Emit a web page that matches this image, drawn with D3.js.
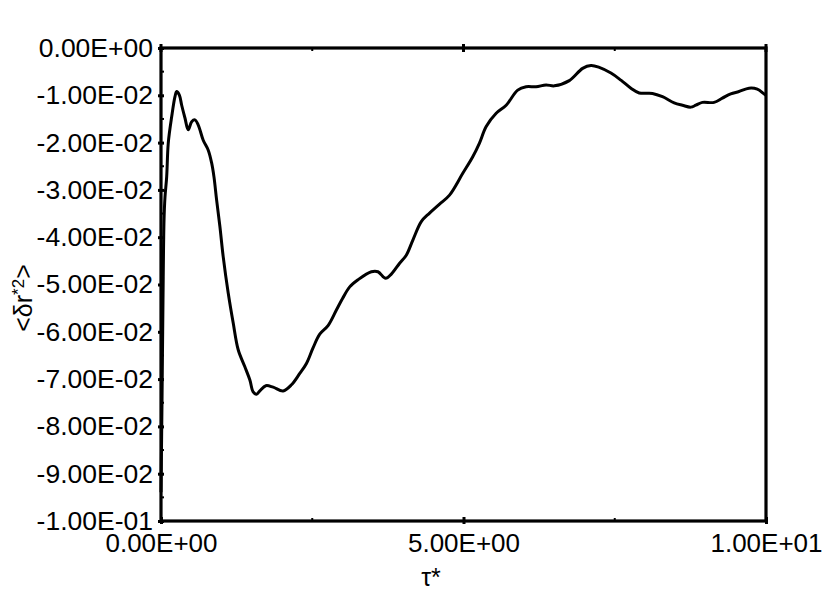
<!DOCTYPE html>
<html>
<head>
<meta charset="utf-8">
<script src="https://cdn.jsdelivr.net/npm/d3@7"></script>
<style>
  body { margin: 0; background: #fff; }
  text { font-family: "Liberation Sans", Arial, sans-serif; fill: #000; }
</style>
</head>
<body>
<div id="main"></div>
<script>
const ctx = { w: 840, h: 595 };
const margin = { top: 48, right: 74, bottom: 74, left: 161 };

// tau* values
const tau = [0.0, 0.017, 0.033, 0.05, 0.066, 0.094, 0.12, 0.177, 0.231, 0.259,
  0.302, 0.342, 0.396, 0.45, 0.507, 0.561, 0.616, 0.698, 0.781, 0.837,
  0.875, 0.919, 0.974, 1.028, 1.111, 1.193, 1.276, 1.386, 1.469, 1.523,
  1.579, 1.634, 1.733, 1.853, 2.018, 2.157, 2.294, 2.404, 2.513, 2.624,
  2.761, 2.899, 3.003, 3.119, 3.256, 3.477, 3.586, 3.713, 3.807, 3.944,
  4.054, 4.163, 4.302, 4.439, 4.604, 4.769, 4.988, 5.153, 5.264, 5.375,
  5.540, 5.705, 5.896, 6.035, 6.200, 6.365, 6.502, 6.749, 6.969, 7.107,
  7.244, 7.437, 7.602, 7.767, 7.904, 8.124, 8.289, 8.482, 8.619, 8.757,
  8.840, 8.949, 9.142, 9.279, 9.417, 9.554, 9.719, 9.856, 9.967, 10.0];

// <dr*^2> values (in units of 1e-2)
const dr2 = [-9.39, -7.44, -5.33, -3.64, -3.15, -2.72, -2.01, -1.45, -1.03, -0.92,
  -0.99, -1.21, -1.48, -1.73, -1.56, -1.52, -1.63, -1.95, -2.16, -2.43,
  -2.72, -3.21, -3.78, -4.41, -5.18, -5.81, -6.38, -6.74, -7.02, -7.27,
  -7.32, -7.25, -7.14, -7.17, -7.25, -7.12, -6.88, -6.67, -6.34, -6.05,
  -5.87, -5.54, -5.29, -5.05, -4.90, -4.73, -4.73, -4.87, -4.78, -4.55,
  -4.38, -4.06, -3.67, -3.49, -3.30, -3.11, -2.65, -2.30, -2.01, -1.66,
  -1.38, -1.21, -0.89, -0.82, -0.82, -0.78, -0.80, -0.69, -0.43, -0.37,
  -0.41, -0.53, -0.68, -0.85, -0.95, -0.96, -1.03, -1.16, -1.21, -1.25,
  -1.21, -1.15, -1.15, -1.06, -0.97, -0.92, -0.85, -0.87, -0.97, -1.00];

const xTicks = [0, 5, 10];
const xMinor = [2.5, 7.5];
const yTicks = [0, -0.01, -0.02, -0.03, -0.04, -0.05, -0.06, -0.07, -0.08, -0.09, -0.1];
const yMinor = [-0.005, -0.015, -0.025, -0.035, -0.045, -0.055, -0.065, -0.075, -0.085, -0.095];

function sci(v) {
    // 1.00E-02 style
    let s = Math.abs(v) < 1e-12 ? "0.00e+0" : v.toExponential(2);
    let [m, e] = s.split("e");
    let sign = e[0] === "-" ? "-" : "+";
    let n = e.replace(/[+-]/, "");
    if (n.length < 2) n = "0" + n;
    return (m + "E" + sign + n);
}

function createViz() {
    const iw = ctx.w - margin.left - margin.right;
    const ih = ctx.h - margin.top - margin.bottom;

    const svg = d3.select("#main").append("svg")
        .attr("width", ctx.w)
        .attr("height", ctx.h);
    const g = svg.append("g")
        .attr("transform", `translate(${margin.left},${margin.top})`);

    const x = d3.scaleLinear().domain([0, 10]).range([0, iw]);
    const y = d3.scaleLinear().domain([-0.1, 0]).range([ih, 0]);

    // curve
    const pts = tau.map((t, i) => [t, dr2[i] * 0.01]);
    const line = d3.line()
        .x(d => x(d[0]))
        .y(d => y(d[1]))
        .curve(d3.curveCatmullRom.alpha(0.5));
    g.append("path")
        .datum(pts)
        .attr("fill", "none")
        .attr("stroke", "#000")
        .attr("stroke-width", 3)
        .attr("stroke-linejoin", "round")
        .attr("d", line);

    // frame
    g.append("rect")
        .attr("width", iw)
        .attr("height", ih)
        .attr("fill", "none")
        .attr("stroke", "#000")
        .attr("stroke-width", 3.2);

    // left axis
    const left = d3.axisLeft(y).tickValues(yTicks).tickFormat(sci).tickSize(3).tickPadding(6);
    const gl = g.append("g").call(left);
    gl.select(".domain").remove();
    gl.selectAll(".tick line").attr("x2", -3).attr("x1", 3).attr("stroke-width", 3);
    gl.selectAll(".tick text")
        .style("font-size", "26.5px")
        .attr("x", -8);

    g.append("g").selectAll("line")
        .data(yMinor)
        .enter().append("line")
        .attr("x1", 0).attr("x2", 3)
        .attr("y1", d => y(d)).attr("y2", d => y(d))
        .attr("stroke", "#000").attr("stroke-width", 2);

    // bottom axis
    const bottom = d3.axisBottom(x).tickValues(xTicks).tickFormat(sci).tickSize(3).tickPadding(10);
    const gb = g.append("g")
        .attr("transform", `translate(0,${ih})`)
        .call(bottom);
    gb.select(".domain").remove();
    gb.selectAll(".tick line").attr("y1", -4).attr("y2", 3).attr("stroke-width", 3);
    gb.selectAll(".tick text").style("font-size", "26px");

    // top ticks
    g.append("g").selectAll("line")
        .data(xTicks)
        .enter().append("line")
        .attr("x1", d => x(d)).attr("x2", d => x(d))
        .attr("y1", -4).attr("y2", 4)
        .attr("stroke", "#000").attr("stroke-width", 3);

    [0, ih].forEach(yy => {
        g.append("g").selectAll("line")
            .data(xMinor)
            .enter().append("line")
            .attr("x1", d => x(d)).attr("x2", d => x(d))
            .attr("y1", yy === 0 ? 0 : ih - 3).attr("y2", yy === 0 ? 3 : ih)
            .attr("stroke", "#000").attr("stroke-width", 2);
    });

    // axis titles
    svg.append("text")
        .attr("x", 431)
        .attr("y", 586)
        .attr("text-anchor", "middle")
        .style("font-size", "25px")
        .text("τ*");

    svg.append("text")
        .attr("transform", "translate(32,298) rotate(-90)")
        .attr("text-anchor", "middle")
        .style("font-size", "25px")
        .html("&lt;δr<tspan dy='-8' font-size='17px'>*2</tspan><tspan dy='8'>&gt;</tspan>");
}

createViz();
</script>
</body>
</html>
